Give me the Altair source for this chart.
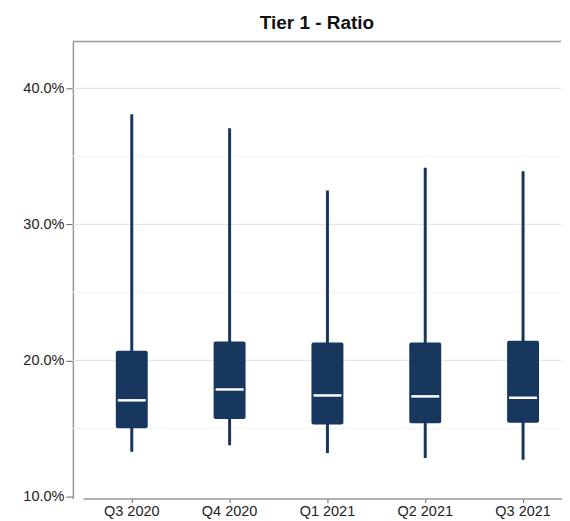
import altair as alt
import pandas as pd

quarters = ["Q3 2020", "Q4 2020", "Q1 2021", "Q2 2021", "Q3 2021"]
whisker_low = [0.1330, 0.1377, 0.1320, 0.1284, 0.1271]
box_low = [0.1501, 0.1570, 0.1530, 0.1538, 0.1543]
median = [0.1707, 0.1787, 0.1743, 0.1736, 0.1726]
box_high = [0.2071, 0.2139, 0.2132, 0.2132, 0.2145]
whisker_high = [0.3810, 0.3707, 0.3250, 0.3416, 0.3390]

grid_major = [0.2, 0.3, 0.4]
grid_minor = [0.15, 0.25, 0.35]
y_ticks = [0.1, 0.2, 0.3, 0.4]
y_domain = [0.0985, 0.4345]

df = pd.DataFrame({
    "quarter": quarters,
    "wlo": whisker_low,
    "q1": box_low,
    "med": median,
    "q3": box_high,
    "whi": whisker_high,
})

navy = "#17375e"
font = "Liberation Sans"

xenc = alt.X(
    "quarter:N",
    sort=quarters,
    scale=alt.Scale(range=[10, 500], paddingInner=0, paddingOuter=0),
    axis=alt.Axis(title=None, labelAngle=0, labelFontSize=14.5, labelFont=font,
                  labelColor="#222222", tickColor="#666666", tickSize=4,
                  domainColor="#999999", domainWidth=1.5, labelPadding=2,
                  grid=False),
)
yscale = alt.Scale(domain=y_domain, nice=False, zero=False)

grid_minor_layer = alt.Chart(pd.DataFrame({"g": grid_minor})).mark_rule(
    color="#f3f3f3", strokeWidth=1
).encode(y=alt.Y("g:Q", scale=yscale))

grid_major_layer = alt.Chart(pd.DataFrame({"g": grid_major})).mark_rule(
    color="#e6e6e6", strokeWidth=1.2
).encode(y=alt.Y("g:Q", scale=yscale))

top_border = alt.Chart(pd.DataFrame({"g": [y_domain[1]]})).mark_rule(
    color="#999999", strokeWidth=1.5
).encode(y=alt.Y("g:Q", scale=yscale))

base = alt.Chart(df)

whiskers = base.mark_rule(color=navy, strokeWidth=3).encode(
    x=xenc,
    y=alt.Y("wlo:Q", scale=yscale,
            axis=alt.Axis(title=None, values=y_ticks, format=".1%", grid=False,
                          labelFontSize=14.5, labelFont=font, labelColor="#222222",
                          tickColor="#666666", tickSize=7, labelPadding=2,
                          domainColor="#999999", domainWidth=1.5)),
    y2="whi:Q",
)

boxes = base.mark_bar(color=navy, size=32, cornerRadius=2, opacity=1).encode(
    x=xenc,
    y=alt.Y("q1:Q", scale=yscale),
    y2="q3:Q",
)

medians = base.mark_tick(color="white", size=28, thickness=2.5, opacity=1).encode(
    x=xenc,
    y=alt.Y("med:Q", scale=yscale),
)

chart = alt.layer(
    grid_minor_layer, grid_major_layer, top_border, whiskers, boxes, medians
).properties(
    width=489,
    height=458,
    title=alt.Title("Tier 1 - Ratio", font=font, fontSize=19, fontWeight="bold",
                    color="#111111", offset=8, anchor="middle"),
    padding={"left": 14, "top": 5, "right": 0, "bottom": 0},
).configure_view(stroke=None)

chart.save("out.html", embed_options={"renderer": "svg", "actions": False})
